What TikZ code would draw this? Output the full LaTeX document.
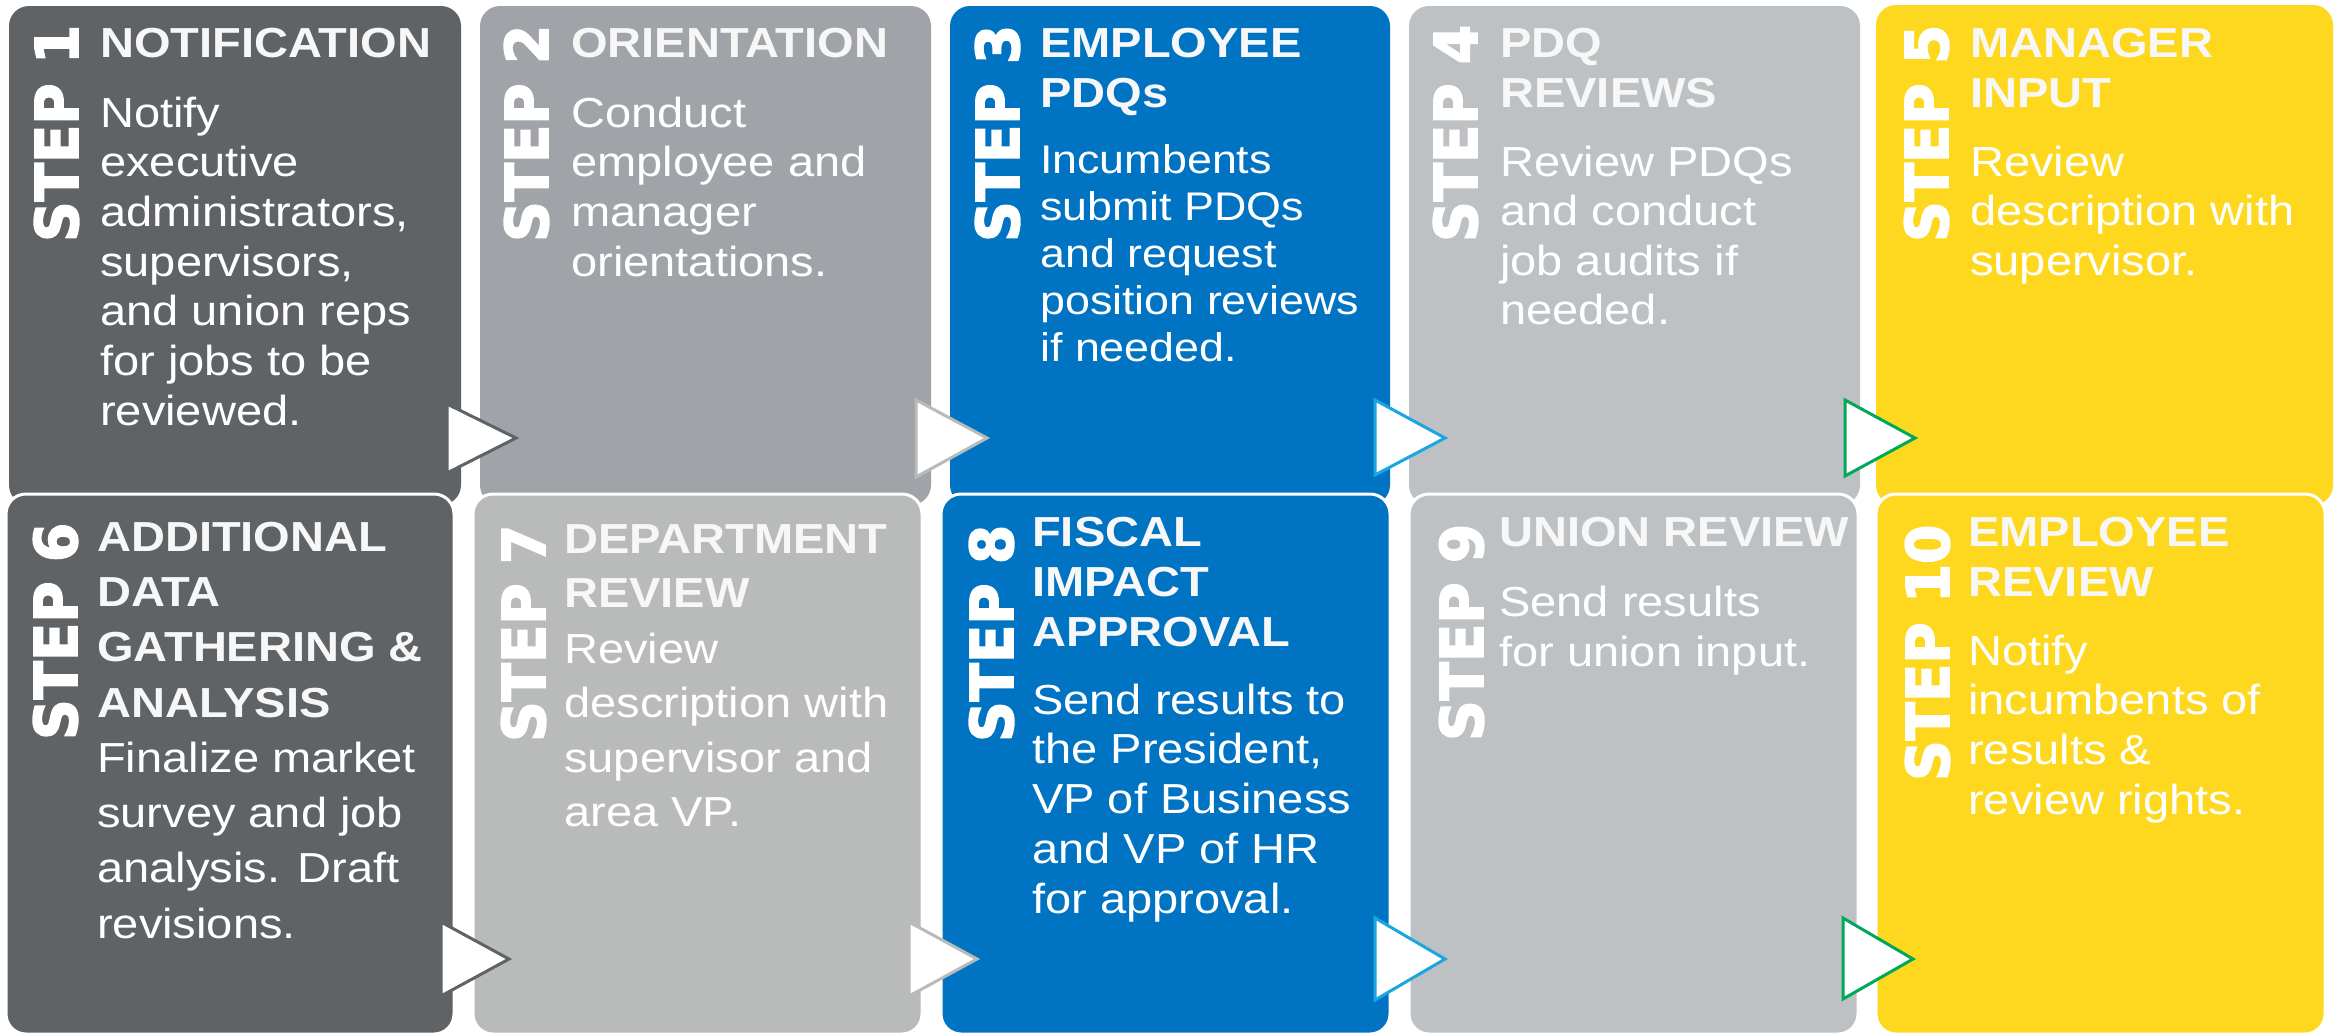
\documentclass[tikz,border=0pt]{standalone}
\usepackage{graphicx}
\usepackage{fontspec}
\setmainfont{Liberation Sans}[FakeStretch=1.12]
\newfontfamily\stepfont{DejaVu Sans}[FakeBold=3]
\definecolor{cdark}{HTML}{5F6366}
\definecolor{cmid}{HTML}{A0A3A7}
\definecolor{clight}{HTML}{B9BABA}
\definecolor{cblue}{HTML}{0073C2}
\definecolor{cpale}{HTML}{BEC1C3}
\definecolor{cyel}{HTML}{FED81F}
\definecolor{ccyan}{HTML}{1BA6DF}
\definecolor{cgreen}{HTML}{00A859}
\definecolor{ctitle}{HTML}{F7F7F7}
\newcommand\txtlines[6]{%
  \foreach \mytxt [count=\myk from 0] in {#6}{%
    \node[#2] (#1\myk) at (#3,{-#4-\myk*#5}) {\mytxt};}}
\newcommand\steptxt[1]{\scalebox{1.066}[1.12]{STEP #1}}
\tikzset{
  box/.style={anchor=north west, inner sep=0pt, outer sep=0pt, rounded corners=20pt,
    minimum width=#1},
  boxb/.style={box=#1, draw=white, line width=3pt},
  title/.style={font=\fontsize{42}{50}\selectfont\bfseries, text=ctitle, inner sep=0pt, anchor=base west},
  body/.style={font=\fontsize{42}{50}\selectfont, text=white, inner sep=0pt, anchor=base west},
  bodys/.style={body, font=\fontsize{40}{47}\selectfont},
  steplbl/.style={font={\stepfont\bfseries\fontsize{52.7}{60}\selectfont}, text=white, rotate=90,
    anchor=base west, inner sep=0pt},
  tri/.style={fill=white, line width=3pt, line join=miter}
}
\begin{document}
\begin{tikzpicture}[x=1pt,y=1pt]
\useasboundingbox[fill=white] (0,0) rectangle (2338,-1034);
% top row boxes
\node[box=452pt, minimum height=499pt, fill=cdark] (s1) at (9,-6) {};
\node[box=451pt, minimum height=499pt, fill=cmid] (s2) at (480,-6) {};
\node[box=440pt, minimum height=499pt, fill=cblue] (s3) at (950,-6) {};
\node[box=451pt, minimum height=499pt, fill=cpale] (s4) at (1409,-6) {};
\node[box=457pt, minimum height=500pt, fill=cyel] (s5) at (1876,-5) {};
% top row labels
\node[steplbl] (p1) at (78,-242) {\steptxt{1}};
\node[steplbl] (p2) at (548,-242) {\steptxt{2}};
\node[steplbl] (p3) at (1019,-242) {\steptxt{3}};
\node[steplbl] (p4) at (1477,-242) {\steptxt{4}};
\node[steplbl] (p5) at (1948,-242) {\steptxt{5}};
% top row texts
\txtlines{h1-}{title}{100}{57}{50}{NOTIFICATION}
\txtlines{b1-}{body}{100}{127}{49.7}{Notify,executive,{administrators,},{supervisors,},and union reps,for jobs to be,reviewed.}
\txtlines{h2-}{title}{571}{57}{50}{ORIENTATION}
\txtlines{b2-}{body}{571}{127}{49.7}{Conduct,employee and,manager,orientations.}
\txtlines{h3-}{title}{1040}{57}{50}{EMPLOYEE,PDQs}
\txtlines{b3-}{bodys}{1040}{173}{47.2}{Incumbents,submit PDQs,and request,position reviews,if needed.}
\txtlines{h4-}{title}{1500}{57}{50}{PDQ,REVIEWS}
\txtlines{b4-}{body}{1500}{176}{49.5}{Review PDQs,and conduct,job audits if,needed.}
\txtlines{h5-}{title}{1970}{57}{50}{MANAGER,INPUT}
\txtlines{b5-}{body}{1970}{176}{49.5}{Review,description with,supervisor.}
% top row arrows
\draw[tri, draw=cdark] (447,-404) -- (516,-438) -- (447,-473) -- cycle;
\draw[tri, draw=clight] (916,-400) -- (987,-438) -- (916,-477) -- cycle;
\draw[tri, draw=ccyan] (1375,-400) -- (1445,-438) -- (1375,-475) -- cycle;
\draw[tri, draw=cgreen] (1845,-400) -- (1915,-438) -- (1845,-476) -- cycle;
% bottom row boxes
\node[boxb=448pt, minimum height=540pt, fill=cdark] (s6) at (6,-494) {};
\node[boxb=449pt, minimum height=540pt, fill=clight] (s7) at (473,-494) {};
\node[boxb=449pt, minimum height=540pt, fill=cblue] (s8) at (941,-494) {};
\node[boxb=449pt, minimum height=540pt, fill=cpale] (s9) at (1409,-494) {};
\node[boxb=449pt, minimum height=540pt, fill=cyel] (s10) at (1876,-494) {};
% bottom row labels
\node[steplbl] (p6) at (77,-740) {\steptxt{6}};
\node[steplbl] (p7) at (545,-742) {\steptxt{7}};
\node[steplbl] (p8) at (1013,-742) {\steptxt{8}};
\node[steplbl] (p9) at (1483,-741) {\steptxt{9}};
\node[steplbl] (p10) at (1949,-781) {\steptxt{10}};
% bottom row texts
\txtlines{h6-}{title}{97}{551}{55.4}{ADDITIONAL,DATA,GATHERING \&,ANALYSIS}
\txtlines{b6-}{body}{97}{772}{55.4}{Finalize market,survey and job,analysis. Draft,revisions.}
\txtlines{h7-}{title}{564}{553}{54}{DEPARTMENT,REVIEW}
\txtlines{b7-}{body}{564}{663}{54.6}{Review,description with,supervisor and,area VP.}
\txtlines{h8-}{title}{1032}{546}{50}{FISCAL,IMPACT,APPROVAL}
\txtlines{b8-}{body}{1032}{714}{49.75}{Send results to,{the President,},VP of Business,and VP of HR,for approval.}
\txtlines{h9-}{title}{1499}{546}{50}{UNION REVIEW}
\txtlines{b9-}{body}{1499}{616}{50}{Send results,for union input.}
\txtlines{h10-}{title}{1968}{546}{50}{EMPLOYEE,REVIEW}
\txtlines{b10-}{body}{1968}{665}{49.7}{Notify,incumbents of,results \&,review rights.}
% bottom row arrows
\draw[tri, draw=cdark] (441,-922) -- (509,-959) -- (441,-996) -- cycle;
\draw[tri, draw=clight] (909,-922) -- (977,-959) -- (909,-996) -- cycle;
\draw[tri, draw=ccyan] (1375,-918) -- (1445,-959) -- (1375,-1000) -- cycle;
\draw[tri, draw=cgreen] (1843,-918) -- (1913,-959) -- (1843,-999) -- cycle;
\end{tikzpicture}
\end{document}
